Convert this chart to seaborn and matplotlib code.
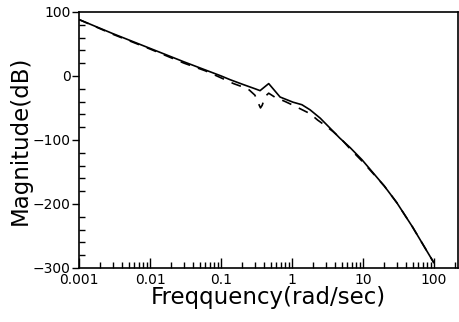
import numpy as np
import pandas as pd
import seaborn as sns
import matplotlib.pyplot as plt
from matplotlib.ticker import LogLocator, MultipleLocator, FixedLocator, NullFormatter

# values (frequency in rad/sec, magnitude in dB)
freq_solid = [0.001, 0.003, 0.01, 0.03, 0.1, 0.135, 0.2, 0.3, 0.355, 0.47, 0.68, 1.03,
              1.38, 1.8, 2.5, 3.4, 4.7, 6.6, 9.7, 20, 30, 50, 100]
mag_solid = [88, 66, 43, 22, 0, -6, -13, -20, -23, -12, -33, -41,
             -45, -53, -66, -81, -97, -112, -131, -172, -198, -236, -292]

freq_dash = [0.001, 0.003, 0.01, 0.03, 0.06, 0.1, 0.15, 0.2, 0.25, 0.3, 0.34, 0.36,
             0.38, 0.42, 0.47, 0.57, 0.8, 1.0, 1.4, 1.8, 2.3, 2.9, 3.8, 4.8, 6.6,
             9.7, 20, 30, 50, 100]
mag_dash = [88, 65, 42, 20, 8, -3, -12, -17, -22, -30, -44, -50,
            -46, -32, -27, -33, -40, -45, -53, -59, -69, -77, -87, -97, -114,
            -133, -172, -198, -236, -292]

x_ticks = [0.001, 0.01, 0.1, 1, 10, 100]
x_ticklabels = ["0.001", "0.01", "0.1", "1", "10", "100"]
y_ticks = [100, 0, -100, -200, -300]

solid = pd.DataFrame({"freq": freq_solid, "mag": mag_solid})
dash = pd.DataFrame({"freq": freq_dash, "mag": mag_dash})

sns.set_style("ticks")
plt.rcParams["font.family"] = ["DejaVu Sans"]
plt.rcParams["text.color"] = "black"
plt.rcParams["axes.labelcolor"] = "black"
plt.rcParams["xtick.color"] = "black"
plt.rcParams["ytick.color"] = "black"

fig = plt.figure(figsize=(4.6, 3.22), dpi=100)
ax = fig.add_axes([0.172, 0.168, 0.824, 0.795])

sns.lineplot(data=solid, x="freq", y="mag", ax=ax, color="black", lw=1.2,
             estimator=None, sort=False)
sns.lineplot(data=dash, x="freq", y="mag", ax=ax, color="black", lw=1.2,
             estimator=None, sort=False, linestyle=(0, (6, 5)))

ax.set_xscale("log")
ax.set_xlim(0.001, 220)
ax.set_ylim(-300, 100)

ax.xaxis.set_major_locator(FixedLocator(x_ticks))
ax.set_xticklabels(x_ticklabels)
minor_x = [m * 10.0 ** e for e in range(-3, 3) for m in range(2, 10) if m * 10.0 ** e < 220]
ax.xaxis.set_minor_locator(FixedLocator(minor_x))
ax.xaxis.set_minor_formatter(NullFormatter())
ax.yaxis.set_major_locator(FixedLocator(y_ticks))
ax.yaxis.set_minor_locator(MultipleLocator(20))

ax.tick_params(axis="x", which="major", direction="in", length=7, width=1, labelsize=10, pad=4,
               bottom=True, top=False)
ax.tick_params(axis="x", which="minor", direction="in", length=4, width=1, bottom=True, top=False)
ax.tick_params(axis="y", which="major", direction="out", length=5, width=1, labelsize=10, pad=1,
               left=True, right=False)
ax.tick_params(axis="y", which="minor", direction="in", length=4, width=1, left=True, right=False)

for side in ["top", "right", "bottom", "left"]:
    ax.spines[side].set_visible(True)
    ax.spines[side].set_linewidth(1.2)
    ax.spines[side].set_color("black")

ax.set_xlabel("Freqquency(rad/sec)", fontsize=16.5, labelpad=-1)
ax.set_ylabel("Magnitude(dB)", fontsize=16.5, labelpad=1)

fig.savefig("out.png", dpi=100)
